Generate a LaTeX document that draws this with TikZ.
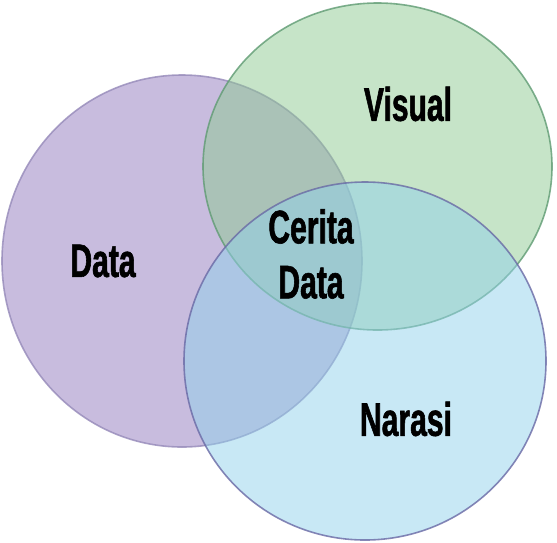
\documentclass[tikz,border=0pt]{standalone}
\usepackage{fontspec}
\newfontfamily\vennfont[FakeStretch=0.64,FakeBold=1.2]{Liberation Sans}

\definecolor{datafill}{RGB}{145,121,189}
\definecolor{visualfill}{RGB}{141,201,145}
\definecolor{narasifill}{RGB}{145,209,235}
\definecolor{dataline}{RGB}{150,138,185}
\definecolor{visualline}{RGB}{95,155,115}
\definecolor{narasiline}{RGB}{105,105,165}

\tikzset{
  venn/.style={fill opacity=0.5, draw opacity=0.8, line width=1.6pt},
  vennlabel/.style={font=\vennfont\bfseries\fontsize{47}{55}\selectfont, text=black, align=center, inner sep=0pt}
}

\begin{document}
\begin{tikzpicture}[x=1pt,y=-1pt]
\useasboundingbox (0,0) rectangle (557,542);

\draw[venn, fill=datafill, draw=dataline] (182,261) circle[x radius=180, y radius=186];
\draw[venn, fill=visualfill, draw=visualline] (377.5,166.5) circle[x radius=174.5, y radius=163.5];
\draw[venn, fill=narasifill, draw=narasiline] (365,361) circle[x radius=181, y radius=179];

\node[vennlabel] (data) at (103,261) {Data};
\node[vennlabel] (visual) at (408,104) {Visual};
\node[vennlabel] (narasi) at (406,419) {Narasi};
\node[vennlabel] (cerita) at (311,254) {Cerita\\Data};
\end{tikzpicture}
\end{document}
